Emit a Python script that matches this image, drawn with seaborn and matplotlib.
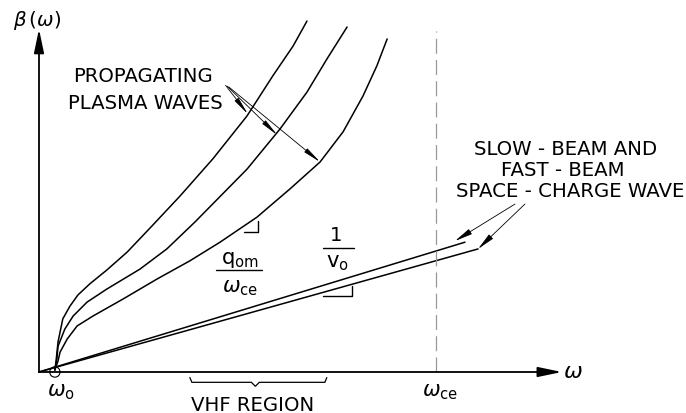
import matplotlib
matplotlib.use("Agg")
import matplotlib.pyplot as plt
import numpy as np
import pandas as pd
import seaborn as sns
from matplotlib.patches import Circle

# ---- data (omega in units where omega_ce = 10, beta in same scale) ----
wave1_w = [0.40, 0.43, 0.48, 0.60, 0.78, 0.98, 1.28, 1.71, 2.22, 2.80, 3.55, 4.38, 5.24, 5.89, 6.40, 6.75]
wave1_b = [0.05, 0.28, 0.76, 1.34, 1.66, 1.94, 2.22, 2.57, 3.02, 3.63, 4.43, 5.37, 6.45, 7.46, 8.21, 8.84]
wave2_w = [0.40, 0.45, 0.48, 0.65, 0.86, 1.21, 1.71, 2.54, 3.22, 3.93, 5.24, 6.07, 6.75, 7.25, 7.76]
wave2_b = [0.05, 0.33, 0.65, 1.08, 1.41, 1.76, 2.09, 2.59, 3.10, 3.78, 5.11, 6.12, 7.05, 7.88, 8.69]
wave3_w = [0.40, 0.48, 0.53, 0.71, 0.96, 1.36, 2.12, 2.97, 3.80, 4.56, 5.49, 6.32, 7.08, 7.66, 8.16, 8.51, 8.77]
wave3_b = [0.05, 0.28, 0.50, 0.83, 1.16, 1.41, 1.84, 2.34, 2.80, 3.27, 3.90, 4.61, 5.29, 6.05, 6.95, 7.71, 8.39]
slow_w = [0.0, 10.73]
slow_b = [0.0, 3.27]
fast_w = [0.0, 11.06]
fast_b = [0.0, 3.10]
omega_o = 0.40
omega_ce = 10.0

rows = []
for name, ws, bs in [("wave1", wave1_w, wave1_b), ("wave2", wave2_w, wave2_b),
                     ("wave3", wave3_w, wave3_b), ("slow", slow_w, slow_b),
                     ("fast", fast_w, fast_b)]:
    for w, b in zip(ws, bs):
        rows.append({"curve": name, "omega": w, "beta": b})
df = pd.DataFrame(rows)

sns.set_theme(style="white")
plt.rcParams["font.family"] = ["DejaVu Sans"]
plt.rcParams["text.color"] = "black"

fig = plt.figure(figsize=(6.86, 4.14), dpi=100)
ax = fig.add_axes([0, 0, 1, 1])
u = 39.7
ax.set_xlim(-39 / u, (686 - 39) / u)
ax.set_ylim((373 - 414) / u, 373 / u)
ax.axis("off")

for name in ["wave1", "wave2", "wave3", "slow", "fast"]:
    sub = df[df.curve == name]
    sns.lineplot(data=sub, x="omega", y="beta", sort=False, estimator=None,
                 color="black", lw=1.1, ax=ax, legend=False)

# axes with arrows
ax.annotate("", xy=(13.17, 0), xytext=(0, 0),
            arrowprops=dict(arrowstyle="-|>,head_length=1.2,head_width=0.25",
                            color="black", lw=1.3, shrinkA=0, shrinkB=0))
ax.annotate("", xy=(0, 8.64), xytext=(0, 0),
            arrowprops=dict(arrowstyle="-|>,head_length=1.2,head_width=0.25",
                            color="black", lw=1.3, shrinkA=0, shrinkB=0))

# omega_ce dashed line
ax.plot([omega_ce, omega_ce], [0, 8.59], color="#999999", lw=0.9,
        linestyle=(0, (12, 5)))

# circle at omega_o
ax.add_patch(Circle((omega_o, 0), 0.13, fill=False, color="black", lw=0.8))

fs = 14.2
ax.text(-0.05, 8.89, r"$\beta\,(\omega)$", fontsize=fs, ha="center", va="center")
ax.text(13.45, 0.02, r"$\omega$", fontsize=fs + 2, ha="center", va="center")
ax.text(0.55, -0.48, r"$\omega_{\mathrm{o}}$", fontsize=fs + 1, ha="center", va="center")
ax.text(10.1, -0.48, r"$\omega_{\mathrm{ce}}$", fontsize=fs + 1, ha="center", va="center")
ax.text(5.39, -0.81, "VHF REGION", fontsize=fs, ha="center", va="center")

# brace under VHF region
bx0, bx1, bm = 3.80, 7.25, 5.45
by0, by1, by2 = -0.14, -0.26, -0.36
ax.plot([bx0, bx0 + 0.05, bm - 0.1, bm, bm + 0.1, bx1 - 0.05, bx1],
        [by0, by1, by1, by2, by1, by1, by0], color="black", lw=0.9)

ax.text(2.62, 7.46, "PROPAGATING", fontsize=fs, ha="center", va="center")
ax.text(2.67, 6.80, "PLASMA WAVES", fontsize=fs, ha="center", va="center")
for (sx, sy), (ex, ey) in [((4.70, 7.22), (5.26, 6.50)),
                           ((4.74, 7.20), (6.00, 5.97)),
                           ((4.78, 7.18), (7.08, 5.29))]:
    ax.annotate("", xy=(ex, ey), xytext=(sx, sy),
                arrowprops=dict(arrowstyle="-|>,head_length=0.9,head_width=0.12",
                                color="black", lw=0.6, shrinkA=0, shrinkB=0))

ax.text(13.27, 5.62, "SLOW - BEAM AND", fontsize=fs, ha="center", va="center")
ax.text(13.20, 5.09, "FAST - BEAM", fontsize=fs, ha="center", va="center")
ax.text(13.38, 4.56, "SPACE - CHARGE WAVE", fontsize=fs, ha="center", va="center")
for (sx, sy), (ex, ey) in [((11.99, 4.23), (10.48, 3.30)),
                           ((12.24, 4.23), (11.06, 3.10))]:
    ax.annotate("", xy=(ex, ey), xytext=(sx, sy),
                arrowprops=dict(arrowstyle="-|>,head_length=0.9,head_width=0.15",
                                color="black", lw=0.6, shrinkA=0, shrinkB=0))

# slope labels
ax.text(5.06, 2.85, r"$\mathrm{q}_{\mathrm{om}}$", fontsize=fs + 1, ha="center", va="center")
ax.plot([4.46, 5.62], [2.57, 2.57], color="black", lw=1.0)
ax.text(5.06, 2.15, r"$\omega_{\mathrm{ce}}$", fontsize=fs + 1, ha="center", va="center")
ax.plot([5.16, 5.52, 5.52], [3.53, 3.53, 3.80], color="black", lw=1.0)

ax.text(7.48, 3.47, "1", fontsize=fs, ha="center", va="center")
ax.plot([7.15, 7.93], [3.12, 3.12], color="black", lw=1.0)
ax.text(7.53, 2.78, r"$\mathrm{v}_{\mathrm{o}}$", fontsize=fs + 1, ha="center", va="center")
ax.plot([7.15, 7.88, 7.88], [1.91, 1.91, 2.17], color="black", lw=1.0)

fig.savefig("out.png", dpi=100)
